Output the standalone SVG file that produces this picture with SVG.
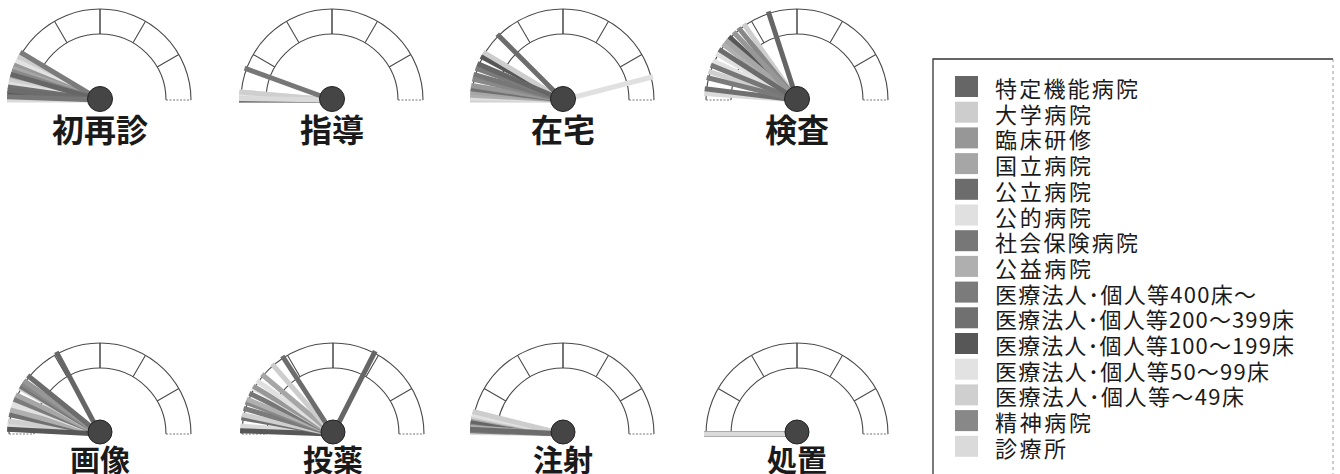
<svg xmlns="http://www.w3.org/2000/svg" xmlns:xlink="http://www.w3.org/1999/xlink" width="1340" height="474" viewBox="0 0 1340 474">
<style>
.ring path{fill:none;stroke:#4a4a4a;stroke-width:1.1}
.ring .cap{stroke:#777;stroke-dasharray:2 1.5}
.ring .tick{stroke:#3a3a3a;stroke-width:1.4}
.n{stroke-width:5;stroke-linecap:butt}
.c1{stroke:#666;fill:#666}.c2{stroke:#cdcdcd;fill:#cdcdcd}.c3{stroke:#979797;fill:#979797}
.c4{stroke:#a6a6a6;fill:#a6a6a6}.c5{stroke:#6c6c6c;fill:#6c6c6c}.c6{stroke:#e0e0e0;fill:#e0e0e0}
.c7{stroke:#777;fill:#777}.c8{stroke:#afafaf;fill:#afafaf}.c9{stroke:#7b7b7b;fill:#7b7b7b}
.c10{stroke:#707070;fill:#707070}.c11{stroke:#575757;fill:#575757}.c12{stroke:#e2e2e2;fill:#e2e2e2}
.c13{stroke:#cfcfcf;fill:#cfcfcf}.c14{stroke:#888;fill:#888}.c15{stroke:#dadada;fill:#dadada}
.hub{fill:#454545;stroke:#222;stroke-width:1}
.lbl{font-family:"Noto Sans CJK JP","Noto Sans CJK SC",sans-serif;font-weight:bold;font-size:32px;fill:#1a1a1a;text-anchor:middle;dominant-baseline:central}
.lbl2{font-size:30px}
.lg{font-family:"Noto Sans CJK JP","Noto Sans CJK SC",sans-serif;font-size:22px;fill:#1a1a1a;dominant-baseline:central}
.sw{stroke:none}
</style>
<defs>
<g id="ring" class="ring">
<path d="M-91 0A91 91 0 0 1 91 0"/>
<path d="M-66 0A66 66 0 0 1 66 0"/>
<path class="cap" d="M-91 0H-66M66 0H91"/>
<path d="M-57.16 -33L-78.81 -45.5M-33 -57.16L-45.5 -78.81M33 -57.16L45.5 -78.81M57.16 -33L78.81 -45.5"/>
<path class="tick" d="M0 -66V-91"/>
</g>
</defs>
<rect width="1340" height="474" fill="#fff"/>

<g id="gauge-shoshin" transform="translate(100,100)">
<use xlink:href="#ring"/>
<line class="n c15" x2="-93" transform="rotate(0)"/>
<line class="n c2" x2="-93" transform="rotate(28)"/>
<line class="n c12" x2="-93" transform="rotate(25)"/>
<line class="n c3" x2="-93" transform="rotate(22)"/>
<line class="n c4" x2="-93" transform="rotate(20)"/>
<line class="n c14" x2="-93" transform="rotate(18)"/>
<line class="n c8" x2="-93" transform="rotate(14)"/>
<line class="n c13" x2="-93" transform="rotate(12)"/>
<line class="n c6" x2="-93" transform="rotate(10)"/>
<line class="n c10" x2="-93" transform="rotate(8)"/>
<line class="n c11" x2="-93" transform="rotate(4)"/>
<line class="n c9" x2="-93" transform="rotate(31)"/>
<line class="n c1" x2="-93" transform="rotate(16)"/>
<line class="n c5" x2="-93" transform="rotate(6)"/>
<line class="n c7" x2="-93" transform="rotate(2)"/>
<circle class="hub" cx="0" cy="-1" r="12.5"/>
<text class="lbl" x="0" y="28">初再診</text>
</g>

<g id="gauge-shido" transform="translate(332,100)">
<use xlink:href="#ring"/>
<line class="n c1" x2="-93" transform="rotate(2)"/>
<line class="n c3" x2="-93" transform="rotate(0)"/>
<line class="n c4" x2="-93" transform="rotate(3)"/>
<line class="n c5" x2="-93" transform="rotate(1)"/>
<line class="n c9" x2="-93" transform="rotate(1)"/>
<line class="n c10" x2="-93" transform="rotate(0)"/>
<line class="n c11" x2="-93" transform="rotate(3)"/>
<line class="n c14" x2="-93" transform="rotate(2)"/>
<line class="n c8" x2="-93" transform="rotate(2)"/>
<line class="n c2" x2="-93" transform="rotate(4)"/>
<line class="n c6" x2="-93" transform="rotate(5)"/>
<line class="n c12" x2="-93" transform="rotate(4)"/>
<line class="n c13" x2="-93" transform="rotate(5)"/>
<line class="n c15" x2="-93" transform="rotate(1)"/>
<line class="n c7" x2="-93" transform="rotate(20)"/>
<circle class="hub" cx="0" cy="-1" r="12.5"/>
<text class="lbl" x="0" y="28">指導</text>
</g>

<g id="gauge-zaitaku" transform="translate(563,100)">
<use xlink:href="#ring"/>
<line class="n c13" x2="-93" transform="rotate(0)"/>
<line class="n c15" x2="-93" transform="rotate(1)"/>
<line class="n c12" x2="-93" transform="rotate(2)"/>
<line class="n c8" x2="-93" transform="rotate(3)"/>
<line class="n c4" x2="-93" transform="rotate(5)"/>
<line class="n c10" x2="-93" transform="rotate(7)"/>
<line class="n c3" x2="-93" transform="rotate(9)"/>
<line class="n c14" x2="-93" transform="rotate(13)"/>
<line class="n c7" x2="-93" transform="rotate(16)"/>
<line class="n c9" x2="-93" transform="rotate(20)"/>
<line class="n c11" x2="-93" transform="rotate(28)"/>
<line class="n c2" x2="-93" transform="rotate(31)"/>
<line class="n c1" x2="-93" transform="rotate(23)"/>
<line class="n c5" x2="-93" transform="rotate(45)"/>
<line class="n c6" x2="-93" transform="rotate(165.5)"/>
<circle class="hub" cx="0" cy="-1" r="12.5"/>
<text class="lbl" x="0" y="28">在宅</text>
</g>

<g id="gauge-kensa" transform="translate(797,100)">
<use xlink:href="#ring"/>
<line class="n c15" x2="-93" transform="rotate(4)"/>
<line class="n c10" x2="-93" transform="rotate(7)"/>
<line class="n c13" x2="-93" transform="rotate(18)"/>
<line class="n c12" x2="-93" transform="rotate(25)"/>
<line class="n c6" x2="-93" transform="rotate(30)"/>
<line class="n c8" x2="-93" transform="rotate(37)"/>
<line class="n c11" x2="-93" transform="rotate(43)"/>
<line class="n c4" x2="-93" transform="rotate(40)"/>
<line class="n c2" x2="-93" transform="rotate(55)"/>
<line class="n c14" x2="-93" transform="rotate(51)"/>
<line class="n c3" x2="-93" transform="rotate(47)"/>
<line class="n c9" x2="-93" transform="rotate(14)"/>
<line class="n c7" x2="-93" transform="rotate(22)"/>
<line class="n c5" x2="-93" transform="rotate(33)"/>
<line class="n c1" x2="-93" transform="rotate(72)"/>
<circle class="hub" cx="0" cy="-1" r="12.5"/>
<text class="lbl" x="0" y="28">検査</text>
</g>

<g id="gauge-gazo" transform="translate(100,434)">
<use xlink:href="#ring"/>
<line class="n c15" x2="-93" transform="rotate(5)"/>
<line class="n c13" x2="-93" transform="rotate(8)"/>
<line class="n c10" x2="-93" transform="rotate(12)"/>
<line class="n c12" x2="-93" transform="rotate(18)"/>
<line class="n c8" x2="-93" transform="rotate(15)"/>
<line class="n c6" x2="-93" transform="rotate(20)"/>
<line class="n c9" x2="-93" transform="rotate(22)"/>
<line class="n c4" x2="-93" transform="rotate(25)"/>
<line class="n c2" x2="-93" transform="rotate(30)"/>
<line class="n c7" x2="-93" transform="rotate(31)"/>
<line class="n c14" x2="-93" transform="rotate(33)"/>
<line class="n c3" x2="-93" transform="rotate(35)"/>
<line class="n c11" x2="-93" transform="rotate(3)"/>
<line class="n c5" x2="-93" transform="rotate(39)"/>
<line class="n c1" x2="-93" transform="rotate(62)"/>
<circle class="hub" cx="0" cy="-2" r="12"/>
<text class="lbl lbl2" x="0" y="24">画像</text>
</g>

<g id="gauge-toyaku" transform="translate(333,434)">
<use xlink:href="#ring"/>
<line class="n c15" x2="-93" transform="rotate(5)"/>
<line class="n c11" x2="-93" transform="rotate(2)"/>
<line class="n c10" x2="-93" transform="rotate(10)"/>
<line class="n c13" x2="-93" transform="rotate(12)"/>
<line class="n c9" x2="-93" transform="rotate(16)"/>
<line class="n c14" x2="-93" transform="rotate(20)"/>
<line class="n c8" x2="-93" transform="rotate(22)"/>
<line class="n c7" x2="-93" transform="rotate(26)"/>
<line class="n c12" x2="-93" transform="rotate(30)"/>
<line class="n c3" x2="-93" transform="rotate(31)"/>
<line class="n c6" x2="-93" transform="rotate(35)"/>
<line class="n c4" x2="-93" transform="rotate(40)"/>
<line class="n c2" x2="-93" transform="rotate(49)"/>
<line class="n c5" x2="-93" transform="rotate(57)"/>
<line class="n c1" x2="-93" transform="rotate(117)"/>
<circle class="hub" cx="0" cy="-2" r="12"/>
<text class="lbl lbl2" x="0" y="24">投薬</text>
</g>

<g id="gauge-chusha" transform="translate(563,434)">
<use xlink:href="#ring"/>
<line class="n c15" x2="-93" transform="rotate(1)"/>
<line class="n c9" x2="-93" transform="rotate(2)"/>
<line class="n c11" x2="-93" transform="rotate(4)"/>
<line class="n c3" x2="-93" transform="rotate(5)"/>
<line class="n c7" x2="-93" transform="rotate(6)"/>
<line class="n c14" x2="-93" transform="rotate(7)"/>
<line class="n c10" x2="-93" transform="rotate(8)"/>
<line class="n c1" x2="-93" transform="rotate(8)"/>
<line class="n c4" x2="-93" transform="rotate(10)"/>
<line class="n c13" x2="-93" transform="rotate(11)"/>
<line class="n c6" x2="-93" transform="rotate(12)"/>
<line class="n c12" x2="-93" transform="rotate(13)"/>
<line class="n c2" x2="-93" transform="rotate(14)"/>
<line class="n c8" x2="-93" transform="rotate(4)"/>
<line class="n c5" x2="-93" transform="rotate(3)"/>
<circle class="hub" cx="0" cy="-2" r="12"/>
<text class="lbl lbl2" x="0" y="24">注射</text>
</g>

<g id="gauge-shochi" transform="translate(797,434)">
<use xlink:href="#ring"/>
<line class="n c1" x2="-93"/>
<line class="n c5" x2="-93"/>
<line class="n c11" x2="-93"/>
<line class="n c14" x2="-93"/>
<line class="n c15" x2="-93"/>
<circle class="hub" cx="0" cy="-2" r="12"/>
<text class="lbl lbl2" x="0" y="24">処置</text>
</g>

<g id="legend">
<path d="M933 474V59H1333" fill="none" stroke="#333" stroke-width="1.3"/>
<path d="M1333 59V474" fill="none" stroke="#999" stroke-width="1" stroke-dasharray="3 3"/>
<rect class="sw c1" x="955" y="76" width="23" height="21"/>
<rect class="sw c2" x="955" y="101.7" width="23" height="21"/>
<rect class="sw c3" x="955" y="127.4" width="23" height="21"/>
<rect class="sw c4" x="955" y="153.1" width="23" height="21"/>
<rect class="sw c5" x="955" y="178.8" width="23" height="21"/>
<rect class="sw c6" x="955" y="204.5" width="23" height="21"/>
<rect class="sw c7" x="955" y="230.2" width="23" height="21"/>
<rect class="sw c8" x="955" y="255.9" width="23" height="21"/>
<rect class="sw c9" x="955" y="281.6" width="23" height="21"/>
<rect class="sw c10" x="955" y="307.3" width="23" height="21"/>
<rect class="sw c11" x="955" y="333" width="23" height="21"/>
<rect class="sw c12" x="955" y="358.7" width="23" height="21"/>
<rect class="sw c13" x="955" y="384.4" width="23" height="21"/>
<rect class="sw c14" x="955" y="410.1" width="23" height="21"/>
<rect class="sw c15" x="955" y="435.8" width="23" height="21"/>
<text class="lg" x="995" y="87" textLength="143">特定機能病院</text>
<text class="lg" x="995" y="112.7" textLength="96">大学病院</text>
<text class="lg" x="995" y="138.4" textLength="96">臨床研修</text>
<text class="lg" x="995" y="164.1" textLength="96">国立病院</text>
<text class="lg" x="995" y="189.8" textLength="96">公立病院</text>
<text class="lg" x="995" y="215.5" textLength="96">公的病院</text>
<text class="lg" x="995" y="241.2" textLength="143">社会保険病院</text>
<text class="lg" x="995" y="266.9" textLength="96">公益病院</text>
<text class="lg" x="995" y="292.6" textLength="261">医療法人･個人等400床～</text>
<text class="lg" x="995" y="318.3" textLength="299">医療法人･個人等200～399床</text>
<text class="lg" x="995" y="344" textLength="299">医療法人･個人等100～199床</text>
<text class="lg" x="995" y="369.7" textLength="274">医療法人･個人等50～99床</text>
<text class="lg" x="995" y="395.4" textLength="249">医療法人･個人等～49床</text>
<text class="lg" x="995" y="421.1" textLength="96">精神病院</text>
<text class="lg" x="995" y="446.8" textLength="71">診療所</text>
</g>
</svg>
